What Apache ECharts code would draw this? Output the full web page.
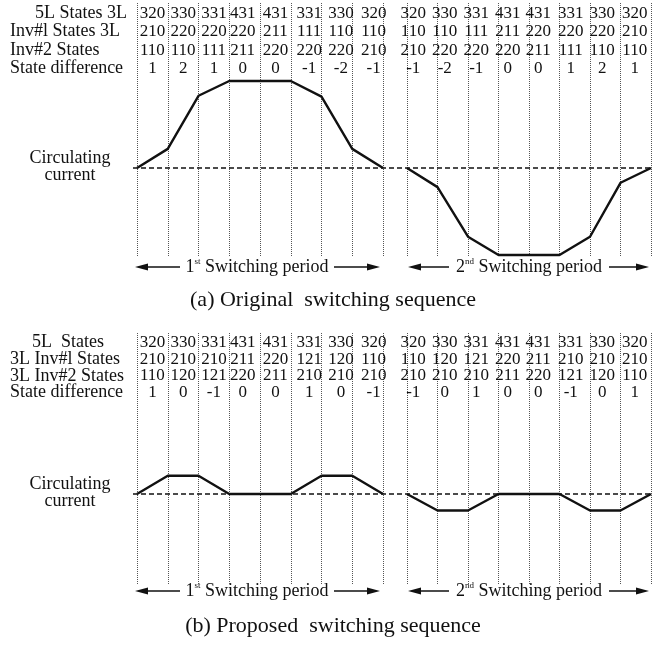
<!DOCTYPE html>
<html>
<head>
<meta charset="utf-8">
<title>Switching sequences</title>
<script src="https://cdn.jsdelivr.net/npm/echarts@6/dist/echarts.min.js"></script>
<style>
  html, body { margin: 0; padding: 0; background: #fff; }
  #chart { width: 652px; height: 648px; }
</style>
</head>
<body>
<div id="chart"></div>
<script>
// step boundaries of one switching period (9 edges, 8 states)
var steps = [0, 1, 2, 3, 4, 5, 6, 7, 8];
var columns = ['c1', 'c2', 'c3', 'c4', 'c5', 'c6', 'c7', 'c8'];
var rowKeys = ['5L', 'inv1', 'inv2', 'diff'];

// (a) original switching sequence
var origLabels = ['5L States 3L', 'Inv#l States 3L', 'Inv#2 States', 'State difference'];
var orig5L_1 = ['320', '330', '331', '431', '431', '331', '330', '320'];
var origInv1_1 = ['210', '220', '220', '220', '211', '111', '110', '110'];
var origInv2_1 = ['110', '110', '111', '211', '220', '220', '220', '210'];
var origDiff_1 = ['1', '2', '1', '0', '0', '-1', '-2', '-1'];
var orig5L_2 = ['320', '330', '331', '431', '431', '331', '330', '320'];
var origInv1_2 = ['110', '110', '111', '211', '220', '220', '220', '210'];
var origInv2_2 = ['210', '220', '220', '220', '211', '111', '110', '110'];
var origDiff_2 = ['-1', '-2', '-1', '0', '0', '1', '2', '1'];
var origCurrent_1 = [0, 0.22, 0.83, 1, 1, 1, 0.82, 0.22, 0];
var origCurrent_2 = [0, -0.22, -0.79, -1, -1, -1, -0.79, -0.17, 0];

// (b) proposed switching sequence
var propLabels = ['5L  States', '3L Inv#l States', '3L Inv#2 States', 'State difference'];
var prop5L_1 = ['320', '330', '331', '431', '431', '331', '330', '320'];
var propInv1_1 = ['210', '210', '210', '211', '220', '121', '120', '110'];
var propInv2_1 = ['110', '120', '121', '220', '211', '210', '210', '210'];
var propDiff_1 = ['1', '0', '-1', '0', '0', '1', '0', '-1'];
var prop5L_2 = ['320', '330', '331', '431', '431', '331', '330', '320'];
var propInv1_2 = ['110', '120', '121', '220', '211', '210', '210', '210'];
var propInv2_2 = ['210', '210', '210', '211', '220', '121', '120', '110'];
var propDiff_2 = ['-1', '0', '1', '0', '0', '-1', '0', '1'];
var propCurrent_1 = [0, 0.21, 0.21, 0, 0, 0, 0.21, 0.21, 0];
var propCurrent_2 = [0, -0.19, -0.19, 0, 0, 0, -0.19, -0.19, 0];

var zeroLine = [[0, 0], [1, 0]];

var FONT = '"Liberation Serif", "Times New Roman", Times, serif';
var INK = '#111';
var UNIT = 87; // px per current unit

// horizontal layout of the two periods (text in the scan drifts a little off the columns)
var periods = [
    {left: 137, width: 246, arrow: [135, 180, 334, 380], shift: [0, 0, 0, -2, 0, 3, 4, 6], sup: 'st', num: '1'},
    {left: 407, width: 244, arrow: [408, 449, 609, 649], shift: [-9, -8, -7, -6, -6, -4, -3, -1], sup: 'nd', num: '2'}
];

var panels = [
    {
        labels: origLabels, firstAlign: 'right',
        tables: [[orig5L_1, origInv1_1, origInv2_1, origDiff_1], [orig5L_2, origInv1_2, origInv2_2, origDiff_2]],
        currents: [origCurrent_1, origCurrent_2],
        lineTop: 3, lineBottom: 256, zeroY: 168, tableTop: 4, tableH: 74,
        arrowY: 267, captionY: 300, caption: '(a) Original  switching sequence'
    },
    {
        labels: propLabels, firstAlign: 'center',
        tables: [[prop5L_1, propInv1_1, propInv2_1, propDiff_1], [prop5L_2, propInv1_2, propInv2_2, propDiff_2]],
        currents: [propCurrent_1, propCurrent_2],
        lineTop: 333, lineBottom: 584, zeroY: 494, tableTop: 334, tableH: 67,
        arrowY: 591, captionY: 626, caption: '(b) Proposed  switching sequence'
    }
];

var grid = [], xAxis = [], yAxis = [], series = [], graphic = [];

function addGrid(g, x, y) {
    var idx = grid.length;
    grid.push(g);
    x.gridIndex = idx; y.gridIndex = idx;
    xAxis.push(x); yAxis.push(y);
    return idx;
}

function hiddenAxis(extra) {
    var a = {axisLine: {show: false}, axisTick: {show: false}, axisLabel: {show: false}, splitLine: {show: false}};
    for (var k in extra) a[k] = extra[k];
    return a;
}

function textEl(text, x, y, size, align) {
    return {
        type: 'text', x: x, y: y, silent: true,
        style: {text: text, fontSize: size, fontFamily: FONT, fill: INK,
                align: align, textAlign: align, verticalAlign: 'middle', textVerticalAlign: 'middle', lineHeight: 17}
    };
}

function arrowEls(a, y, num, sup) {
    var els = [];
    els.push({type: 'line', silent: true, shape: {x1: a[0] + 8, y1: y, x2: a[1], y2: y}, style: {stroke: INK, lineWidth: 1.5}});
    els.push({type: 'line', silent: true, shape: {x1: a[2], y1: y, x2: a[3] - 8, y2: y}, style: {stroke: INK, lineWidth: 1.5}});
    els.push({type: 'polygon', silent: true, shape: {points: [[a[0], y], [a[0] + 13, y - 3.5], [a[0] + 13, y + 3.5]]}, style: {fill: INK}});
    els.push({type: 'polygon', silent: true, shape: {points: [[a[3], y], [a[3] - 13, y - 3.5], [a[3] - 13, y + 3.5]]}, style: {fill: INK}});
    els.push({
        type: 'text', silent: true, x: (a[1] + a[2]) / 2, y: y,
        style: {
            text: '{n|' + num + '}{s|' + sup + '}{n| Switching period}',
            align: 'center', textAlign: 'center', verticalAlign: 'middle', textVerticalAlign: 'middle',
            rich: {
                n: {fontSize: 18, fontFamily: FONT, fill: INK, lineHeight: 20},
                s: {fontSize: 9, fontFamily: FONT, fill: INK, verticalAlign: 'top', lineHeight: 20}
            }
        }
    });
    return els;
}

panels.forEach(function (p) {
    var yMax = (p.zeroY - p.lineTop) / UNIT;
    var yMin = -(p.lineBottom - p.zeroY) / UNIT;
    var h = p.lineBottom - p.lineTop;

    periods.forEach(function (per, k) {
        // waveform grid with dotted step lines
        var g = addGrid({left: per.left, top: p.lineTop, width: per.width, height: h},
            hiddenAxis({type: 'value', min: 0, max: 8, interval: 1,
                splitLine: {show: true, lineStyle: {color: '#555', width: 1, type: [1, 1]}}}),
            {type: 'value', min: yMin, max: yMax, show: false});
        var cur = p.currents[k];
        series.push({
            type: 'line', xAxisIndex: g, yAxisIndex: g, z: 5, silent: true,
            symbol: 'none', animation: false,
            lineStyle: {color: INK, width: 2.4},
            data: steps.map(function (s, i) { return [s, cur[i]]; })
        });

        // state table grid
        var t = addGrid({left: per.left, top: p.tableTop, width: per.width, height: p.tableH},
            {type: 'category', data: columns, boundaryGap: true, show: false},
            {type: 'category', data: rowKeys, inverse: true, boundaryGap: true, show: false});
        var cells = [], texts = [];
        p.tables[k].forEach(function (row, r) {
            row.forEach(function (txt, c) { cells.push([c, r]); texts.push(txt); });
        });
        series.push({
            type: 'custom', xAxisIndex: t, yAxisIndex: t, silent: true, animation: false,
            data: cells,
            renderItem: function (params, api) {
                var col = api.value(0);
                var pt = api.coord([col, api.value(1)]);
                return {
                    type: 'text', x: pt[0] + per.shift[col], y: pt[1],
                    style: {text: texts[params.dataIndex], fontSize: 17, fontFamily: FONT, fill: INK,
                            align: 'center', verticalAlign: 'middle'}
                };
            }
        });

        graphic = graphic.concat(arrowEls(per.arrow, p.arrowY, per.num, per.sup));
    });

    // dashed zero reference spanning both periods
    var z = addGrid({left: periods[0].left - 4, top: p.lineTop, right: 0, height: h},
        {type: 'value', min: 0, max: 1, show: false},
        {type: 'value', min: yMin, max: yMax, show: false});
    series.push({
        type: 'line', xAxisIndex: z, yAxisIndex: z, z: 1, silent: true, symbol: 'none', animation: false,
        lineStyle: {color: INK, width: 1.3, type: [5, 3]},
        data: zeroLine
    });

    // row labels on the left
    p.labels.forEach(function (lab, r) {
        var y = p.tableTop + (r + 0.5) * p.tableH / 4;
        if (r === 0) {
            graphic.push(textEl(lab, p.firstAlign === 'right' ? 127 : 68, y, 18, p.firstAlign));
        } else {
            graphic.push(textEl(lab, 10, y, 18, 'left'));
        }
    });
    graphic.push(textEl('Circulating\ncurrent', 70, p.zeroY - 1, 18, 'center'));
    graphic.push(textEl(p.caption, 333, p.captionY, 22, 'center'));
});

var chart = echarts.init(document.getElementById('chart'));
chart.setOption({
    animation: false,
    backgroundColor: '#fff',
    grid: grid,
    xAxis: xAxis,
    yAxis: yAxis,
    series: series,
    graphic: {elements: graphic}
});
</script>
</body>
</html>
